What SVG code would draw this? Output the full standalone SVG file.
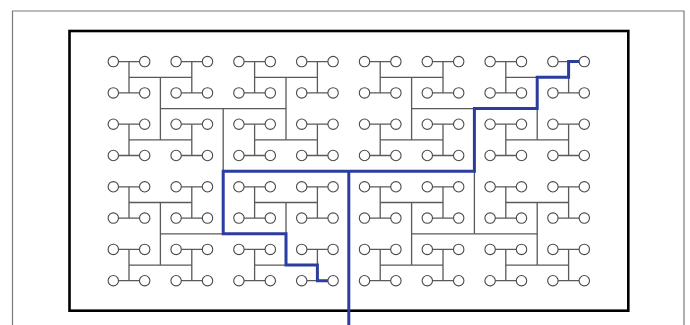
<svg xmlns="http://www.w3.org/2000/svg" width="690" height="325" viewBox="0 0 690 325">
<style>
.tree{fill:none;stroke:#5a5a5a;stroke-width:1.3}
.route{fill:none;stroke:#2b3d9f;stroke-width:3;stroke-linejoin:miter}
.n circle{fill:#fff;stroke:#4a4a4a;stroke-width:1.1}
</style>
<rect x="0" y="0" width="690" height="325" fill="#fff"/>
<path d="M12.5 325V11H684V325" fill="none" stroke="#7a7a7a" stroke-width="1.2"/>
<rect x="69.5" y="31" width="558.8" height="279.7" fill="none" stroke="#000" stroke-width="2.6"/>
<g id="connectors">
<path class="tree" stroke-dasharray="31.4 31.4" d="M113.3 61.6H584.3M113.3 92.9H584.3M113.3 124.2H584.3M113.3 155.5H584.3M113.3 186.8H584.3M113.3 218.1H584.3M113.3 249.4H584.3M113.3 280.7H584.3"/>
<path class="tree" d="M129 61.6V92.9M191.8 61.6V92.9M254.6 61.6V92.9M317.4 61.6V92.9M380.2 61.6V92.9M443 61.6V92.9M505.8 61.6V92.9M568.6 61.6V92.9
M129 124.2V155.5M191.8 124.2V155.5M254.6 124.2V155.5M317.4 124.2V155.5M380.2 124.2V155.5M443 124.2V155.5M505.8 124.2V155.5M568.6 124.2V155.5
M129 186.8V218.1M191.8 186.8V218.1M254.6 186.8V218.1M317.4 186.8V218.1M380.2 186.8V218.1M443 186.8V218.1M505.8 186.8V218.1M568.6 186.8V218.1
M129 249.4V280.7M191.8 249.4V280.7M254.6 249.4V280.7M317.4 249.4V280.7M380.2 249.4V280.7M443 249.4V280.7M505.8 249.4V280.7M568.6 249.4V280.7"/>
<path class="tree" d="M129 77.3H191.8M254.6 77.3H317.4M380.2 77.3H443M505.8 77.3H568.6
M129 139.9H191.8M254.6 139.9H317.4M380.2 139.9H443M505.8 139.9H568.6
M129 202.5H191.8M254.6 202.5H317.4M380.2 202.5H443M505.8 202.5H568.6
M129 265.1H191.8M254.6 265.1H317.4M380.2 265.1H443M505.8 265.1H568.6"/>
<path class="tree" d="M160.4 77.3V139.9M286 77.3V139.9M411.6 77.3V139.9M537.2 77.3V139.9
M160.4 202.5V265.1M286 202.5V265.1M411.6 202.5V265.1M537.2 202.5V265.1"/>
<path class="tree" d="M160.4 108.6H286M411.6 108.6H537.2M160.4 233.8H286M411.6 233.8H537.2"/>
<path class="tree" d="M223.2 108.6V233.8M474.4 108.6V233.8M223.2 171.2H474.4"/>
<path class="route" d="M584.3 61.6H568.6V77.3H537.2V108.6H474.4V171.2H223.2V233.8H286V265.1H317.4V280.7H333.1"/>
<path class="route" d="M348.8 171.2V325"/>
</g>
<g id="nodes" class="n">
<g id="n0-0"><circle cx="113.3" cy="61.6" r="5.2"/></g><g id="n0-1"><circle cx="144.7" cy="61.6" r="5.2"/></g><g id="n0-2"><circle cx="176.1" cy="61.6" r="5.2"/></g><g id="n0-3"><circle cx="207.5" cy="61.6" r="5.2"/></g><g id="n0-4"><circle cx="238.9" cy="61.6" r="5.2"/></g><g id="n0-5"><circle cx="270.3" cy="61.6" r="5.2"/></g><g id="n0-6"><circle cx="301.7" cy="61.6" r="5.2"/></g><g id="n0-7"><circle cx="333.1" cy="61.6" r="5.2"/></g><g id="n0-8"><circle cx="364.5" cy="61.6" r="5.2"/></g><g id="n0-9"><circle cx="395.9" cy="61.6" r="5.2"/></g><g id="n0-10"><circle cx="427.3" cy="61.6" r="5.2"/></g><g id="n0-11"><circle cx="458.7" cy="61.6" r="5.2"/></g><g id="n0-12"><circle cx="490.1" cy="61.6" r="5.2"/></g><g id="n0-13"><circle cx="521.5" cy="61.6" r="5.2"/></g><g id="n0-14"><circle cx="552.9" cy="61.6" r="5.2"/></g><g id="n0-15"><circle cx="584.3" cy="61.6" r="5.2"/></g>
<g id="n1-0"><circle cx="113.3" cy="92.9" r="5.2"/></g><g id="n1-1"><circle cx="144.7" cy="92.9" r="5.2"/></g><g id="n1-2"><circle cx="176.1" cy="92.9" r="5.2"/></g><g id="n1-3"><circle cx="207.5" cy="92.9" r="5.2"/></g><g id="n1-4"><circle cx="238.9" cy="92.9" r="5.2"/></g><g id="n1-5"><circle cx="270.3" cy="92.9" r="5.2"/></g><g id="n1-6"><circle cx="301.7" cy="92.9" r="5.2"/></g><g id="n1-7"><circle cx="333.1" cy="92.9" r="5.2"/></g><g id="n1-8"><circle cx="364.5" cy="92.9" r="5.2"/></g><g id="n1-9"><circle cx="395.9" cy="92.9" r="5.2"/></g><g id="n1-10"><circle cx="427.3" cy="92.9" r="5.2"/></g><g id="n1-11"><circle cx="458.7" cy="92.9" r="5.2"/></g><g id="n1-12"><circle cx="490.1" cy="92.9" r="5.2"/></g><g id="n1-13"><circle cx="521.5" cy="92.9" r="5.2"/></g><g id="n1-14"><circle cx="552.9" cy="92.9" r="5.2"/></g><g id="n1-15"><circle cx="584.3" cy="92.9" r="5.2"/></g>
<g id="n2-0"><circle cx="113.3" cy="124.2" r="5.2"/></g><g id="n2-1"><circle cx="144.7" cy="124.2" r="5.2"/></g><g id="n2-2"><circle cx="176.1" cy="124.2" r="5.2"/></g><g id="n2-3"><circle cx="207.5" cy="124.2" r="5.2"/></g><g id="n2-4"><circle cx="238.9" cy="124.2" r="5.2"/></g><g id="n2-5"><circle cx="270.3" cy="124.2" r="5.2"/></g><g id="n2-6"><circle cx="301.7" cy="124.2" r="5.2"/></g><g id="n2-7"><circle cx="333.1" cy="124.2" r="5.2"/></g><g id="n2-8"><circle cx="364.5" cy="124.2" r="5.2"/></g><g id="n2-9"><circle cx="395.9" cy="124.2" r="5.2"/></g><g id="n2-10"><circle cx="427.3" cy="124.2" r="5.2"/></g><g id="n2-11"><circle cx="458.7" cy="124.2" r="5.2"/></g><g id="n2-12"><circle cx="490.1" cy="124.2" r="5.2"/></g><g id="n2-13"><circle cx="521.5" cy="124.2" r="5.2"/></g><g id="n2-14"><circle cx="552.9" cy="124.2" r="5.2"/></g><g id="n2-15"><circle cx="584.3" cy="124.2" r="5.2"/></g>
<g id="n3-0"><circle cx="113.3" cy="155.5" r="5.2"/></g><g id="n3-1"><circle cx="144.7" cy="155.5" r="5.2"/></g><g id="n3-2"><circle cx="176.1" cy="155.5" r="5.2"/></g><g id="n3-3"><circle cx="207.5" cy="155.5" r="5.2"/></g><g id="n3-4"><circle cx="238.9" cy="155.5" r="5.2"/></g><g id="n3-5"><circle cx="270.3" cy="155.5" r="5.2"/></g><g id="n3-6"><circle cx="301.7" cy="155.5" r="5.2"/></g><g id="n3-7"><circle cx="333.1" cy="155.5" r="5.2"/></g><g id="n3-8"><circle cx="364.5" cy="155.5" r="5.2"/></g><g id="n3-9"><circle cx="395.9" cy="155.5" r="5.2"/></g><g id="n3-10"><circle cx="427.3" cy="155.5" r="5.2"/></g><g id="n3-11"><circle cx="458.7" cy="155.5" r="5.2"/></g><g id="n3-12"><circle cx="490.1" cy="155.5" r="5.2"/></g><g id="n3-13"><circle cx="521.5" cy="155.5" r="5.2"/></g><g id="n3-14"><circle cx="552.9" cy="155.5" r="5.2"/></g><g id="n3-15"><circle cx="584.3" cy="155.5" r="5.2"/></g>
<g id="n4-0"><circle cx="113.3" cy="186.8" r="5.2"/></g><g id="n4-1"><circle cx="144.7" cy="186.8" r="5.2"/></g><g id="n4-2"><circle cx="176.1" cy="186.8" r="5.2"/></g><g id="n4-3"><circle cx="207.5" cy="186.8" r="5.2"/></g><g id="n4-4"><circle cx="238.9" cy="186.8" r="5.2"/></g><g id="n4-5"><circle cx="270.3" cy="186.8" r="5.2"/></g><g id="n4-6"><circle cx="301.7" cy="186.8" r="5.2"/></g><g id="n4-7"><circle cx="333.1" cy="186.8" r="5.2"/></g><g id="n4-8"><circle cx="364.5" cy="186.8" r="5.2"/></g><g id="n4-9"><circle cx="395.9" cy="186.8" r="5.2"/></g><g id="n4-10"><circle cx="427.3" cy="186.8" r="5.2"/></g><g id="n4-11"><circle cx="458.7" cy="186.8" r="5.2"/></g><g id="n4-12"><circle cx="490.1" cy="186.8" r="5.2"/></g><g id="n4-13"><circle cx="521.5" cy="186.8" r="5.2"/></g><g id="n4-14"><circle cx="552.9" cy="186.8" r="5.2"/></g><g id="n4-15"><circle cx="584.3" cy="186.8" r="5.2"/></g>
<g id="n5-0"><circle cx="113.3" cy="218.1" r="5.2"/></g><g id="n5-1"><circle cx="144.7" cy="218.1" r="5.2"/></g><g id="n5-2"><circle cx="176.1" cy="218.1" r="5.2"/></g><g id="n5-3"><circle cx="207.5" cy="218.1" r="5.2"/></g><g id="n5-4"><circle cx="238.9" cy="218.1" r="5.2"/></g><g id="n5-5"><circle cx="270.3" cy="218.1" r="5.2"/></g><g id="n5-6"><circle cx="301.7" cy="218.1" r="5.2"/></g><g id="n5-7"><circle cx="333.1" cy="218.1" r="5.2"/></g><g id="n5-8"><circle cx="364.5" cy="218.1" r="5.2"/></g><g id="n5-9"><circle cx="395.9" cy="218.1" r="5.2"/></g><g id="n5-10"><circle cx="427.3" cy="218.1" r="5.2"/></g><g id="n5-11"><circle cx="458.7" cy="218.1" r="5.2"/></g><g id="n5-12"><circle cx="490.1" cy="218.1" r="5.2"/></g><g id="n5-13"><circle cx="521.5" cy="218.1" r="5.2"/></g><g id="n5-14"><circle cx="552.9" cy="218.1" r="5.2"/></g><g id="n5-15"><circle cx="584.3" cy="218.1" r="5.2"/></g>
<g id="n6-0"><circle cx="113.3" cy="249.4" r="5.2"/></g><g id="n6-1"><circle cx="144.7" cy="249.4" r="5.2"/></g><g id="n6-2"><circle cx="176.1" cy="249.4" r="5.2"/></g><g id="n6-3"><circle cx="207.5" cy="249.4" r="5.2"/></g><g id="n6-4"><circle cx="238.9" cy="249.4" r="5.2"/></g><g id="n6-5"><circle cx="270.3" cy="249.4" r="5.2"/></g><g id="n6-6"><circle cx="301.7" cy="249.4" r="5.2"/></g><g id="n6-7"><circle cx="333.1" cy="249.4" r="5.2"/></g><g id="n6-8"><circle cx="364.5" cy="249.4" r="5.2"/></g><g id="n6-9"><circle cx="395.9" cy="249.4" r="5.2"/></g><g id="n6-10"><circle cx="427.3" cy="249.4" r="5.2"/></g><g id="n6-11"><circle cx="458.7" cy="249.4" r="5.2"/></g><g id="n6-12"><circle cx="490.1" cy="249.4" r="5.2"/></g><g id="n6-13"><circle cx="521.5" cy="249.4" r="5.2"/></g><g id="n6-14"><circle cx="552.9" cy="249.4" r="5.2"/></g><g id="n6-15"><circle cx="584.3" cy="249.4" r="5.2"/></g>
<g id="n7-0"><circle cx="113.3" cy="280.7" r="5.2"/></g><g id="n7-1"><circle cx="144.7" cy="280.7" r="5.2"/></g><g id="n7-2"><circle cx="176.1" cy="280.7" r="5.2"/></g><g id="n7-3"><circle cx="207.5" cy="280.7" r="5.2"/></g><g id="n7-4"><circle cx="238.9" cy="280.7" r="5.2"/></g><g id="n7-5"><circle cx="270.3" cy="280.7" r="5.2"/></g><g id="n7-6"><circle cx="301.7" cy="280.7" r="5.2"/></g><g id="n7-7"><circle cx="333.1" cy="280.7" r="5.2"/></g><g id="n7-8"><circle cx="364.5" cy="280.7" r="5.2"/></g><g id="n7-9"><circle cx="395.9" cy="280.7" r="5.2"/></g><g id="n7-10"><circle cx="427.3" cy="280.7" r="5.2"/></g><g id="n7-11"><circle cx="458.7" cy="280.7" r="5.2"/></g><g id="n7-12"><circle cx="490.1" cy="280.7" r="5.2"/></g><g id="n7-13"><circle cx="521.5" cy="280.7" r="5.2"/></g><g id="n7-14"><circle cx="552.9" cy="280.7" r="5.2"/></g><g id="n7-15"><circle cx="584.3" cy="280.7" r="5.2"/></g>
</g>
</svg>
